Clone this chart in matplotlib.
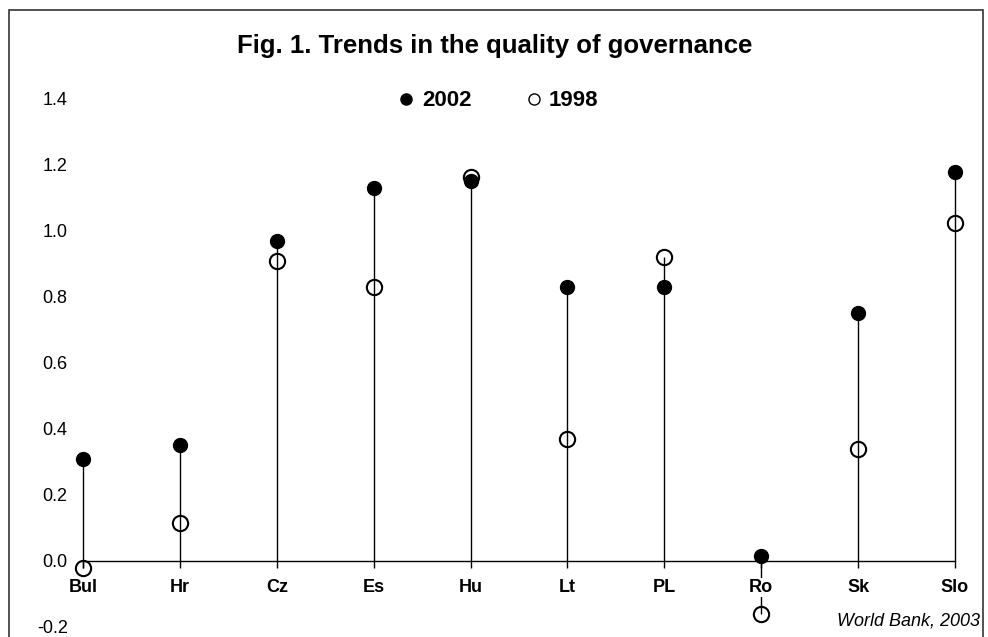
import numpy as np
import matplotlib
matplotlib.use('Agg')
from matplotlib import pyplot as plt
from matplotlib.patches import Rectangle

plt.rcParams['font.family'] = ['Liberation Sans', 'DejaVu Sans']

countries = ['Bul', 'Hr', 'Cz', 'Es', 'Hu', 'Lt', 'PL', 'Ro', 'Sk', 'Slo']
y2002 = [0.31, 0.35, 0.97, 1.13, 1.15, 0.83, 0.83, 0.015, 0.75, 1.18]
y1998 = [-0.02, 0.115, 0.91, 0.83, 1.165, 0.37, 0.92, -0.16, 0.34, 1.025]

fig = plt.figure(figsize=(9.88, 6.37), dpi=100)
ax = fig.add_axes([0.084, 0.0157, 0.8826, 0.8289])

# spine first: moving it resets the ticks
for s in ['top', 'right', 'left']:
    ax.spines[s].set_visible(False)
ax.spines['bottom'].set_position(('data', 0))
ax.spines['bottom'].set_linewidth(1)
ax.patch.set_visible(False)

x = np.arange(len(countries))
lo = np.minimum(0, np.minimum(y2002, y1998))
hi = np.maximum(0, np.maximum(y2002, y1998))
ax.vlines(x, lo, hi, color='black', lw=1, zorder=1, clip_on=False)

ax.plot(x, y1998, 'o', ms=11, mfc='none', mec='black', mew=1.5,
        ls='none', label='1998', zorder=3, clip_on=False)
ax.plot(x, y2002, 'o', ms=10, mfc='black', mec='black',
        ls='none', label='2002', zorder=4, clip_on=False)

ax.set_xlim(0, 9)
ax.set_ylim(-0.2, 1.4)
yt = np.arange(-0.2, 1.41, 0.2)
ax.set_yticks(yt)
ax.set_yticklabels(['%.1f' % v for v in yt])
ax.tick_params(axis='y', length=0, pad=11, labelsize=13)

ax.set_xticks(x)
ax.tick_params(axis='x', length=5, width=1, pad=8, labelsize=13)
ax.set_xticklabels(countries, fontweight='bold')
for lab in ax.get_xticklabels():
    lab.set_bbox(dict(facecolor='white', edgecolor='none', pad=0.5))
    lab.set_zorder(2)

fig.text(495 / 988, 1 - 46 / 637, 'Fig. 1. Trends in the quality of governance',
         ha='center', va='center', fontsize=18.5, fontweight='bold')

h, l = ax.get_legend_handles_labels()
leg = fig.legend(h[::-1], l[::-1], loc='center', bbox_to_anchor=(498 / 988, 1 - 101 / 637),
                 ncol=2, frameon=False, prop={'weight': 'bold', 'size': 16},
                 handletextpad=0.3, columnspacing=2.4, handlelength=0.8)
for lh in leg.legend_handles:
    lh.set_markersize(8)
    lh.set_markeredgewidth(1.0)

fig.text(980 / 988, 1 - 621 / 637, 'World Bank, 2003', ha='right', va='center',
         fontsize=13, style='italic')

fig.patches.append(Rectangle((9 / 988, -0.1), 974 / 988, 1.084, transform=fig.transFigure,
                             fill=False, edgecolor='#333333', lw=1.2))

plt.savefig('out.png', dpi=100)
